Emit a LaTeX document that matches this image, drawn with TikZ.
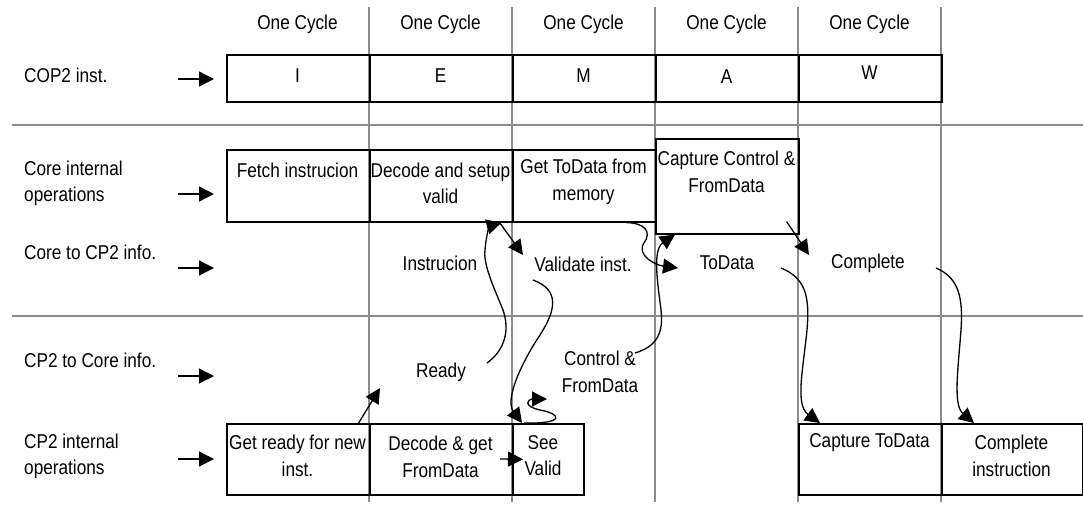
\documentclass[tikz,border=0pt]{standalone}
\usepackage{fontspec}
\setmainfont{Liberation Sans}[FakeStretch=0.86]
\usetikzlibrary{arrows.meta}
\begin{document}
\begin{tikzpicture}[x=1pt,y=-1pt,
  gridline/.style={draw=black!45, line width=1.4pt},
  box/.style={draw=black, line width=1.6pt, inner sep=0pt, anchor=north west},
  txt/.style={font=\fontsize{20}{26.5}\selectfont, align=center, inner sep=0pt},
  ltxt/.style={font=\fontsize{20}{26.5}\selectfont, align=left, inner sep=0pt, anchor=west},
  arr/.style={line width=1.3pt, -{Triangle[length=15pt,width=15pt]}},
]
\useasboundingbox (0,0) rectangle (1083,504);
% grid
\foreach \x in {369,512,655,798,941} {\draw[gridline] (\x,7) -- (\x,502);}
\draw[gridline] (12,125) -- (1083,125);
\draw[gridline] (12,316) -- (1083,316);

% cycle headers
\node[txt] (c1) at (297.5,24) {One Cycle};
\node[txt] (c2) at (440.5,24) {One Cycle};
\node[txt] (c3) at (583.5,24) {One Cycle};
\node[txt] (c4) at (726.5,24) {One Cycle};
\node[txt] (c5) at (869.5,24) {One Cycle};

% row labels
\node[ltxt] (l1) at (24,75) {COP2 inst.};
\node[ltxt] (l2) at (24,183.5) {Core internal\\operations};
\node[ltxt] (l3) at (24,252) {Core to CP2 info.};
\node[ltxt] (l4) at (24,360) {CP2 to Core info.};
\node[ltxt] (l5) at (24,456.5) {CP2 internal\\operations};

% left arrows
\foreach \n/\y in {1/79,2/194,3/268,4/376,5/459} {
  \coordinate (as\n) at (178,\y);
  \coordinate (ae\n) at (214,\y);
  \draw[arr] (as\n) -- (ae\n);
}

% row 1 boxes
\node[box, minimum width=143pt, minimum height=47pt] (bI) at (226,54) {};
\node[box, minimum width=143pt, minimum height=47pt] (bE) at (369,54) {};
\node[box, minimum width=143pt, minimum height=47pt] (bM) at (512,54) {};
\node[box, minimum width=143pt, minimum height=47pt] (bA) at (655,54) {};
\node[box, minimum width=143pt, minimum height=47pt] (bW) at (798,54) {};
\node[txt] (tI) at (297.5,76) {I};
\node[txt] (tE) at (440.5,76) {E};
\node[txt] (tM) at (583.5,76) {M};
\node[txt] (tA) at (726.5,77) {A};
\node[txt] (tW) at (869.5,73) {W};

% row 2 boxes
\node[box, minimum width=143pt, minimum height=72pt] (bF) at (226,149) {};
\node[box, minimum width=143pt, minimum height=72pt] (bDec) at (369,149) {};
\node[box, minimum width=143pt, minimum height=72pt] (bGet) at (512,149) {};
\node[box, minimum width=143pt, minimum height=95pt] (bCap) at (655,138) {};
\node[txt] (tF) at (297.5,170) {Fetch instrucion};
\node[txt] (tDec) at (440.5,183.5) {Decode and setup\\valid};
\node[txt] (tGet) at (583.5,182) {Get ToData from\\memory};
\node[txt] (tCap) at (726.5,172) {Capture Control \&\\FromData};

% row 5 boxes
\node[box, minimum width=143pt, minimum height=71pt] (bGR) at (226,423) {};
\node[box, minimum width=143pt, minimum height=71pt] (bDG) at (369,423) {};
\node[box, minimum width=71pt, minimum height=71pt] (bSee) at (512,423) {};
\node[box, minimum width=143pt, minimum height=71pt] (bCTD) at (798,423) {};
\node[box, minimum width=141pt, minimum height=71pt] (bCI) at (941,423) {};
\node[txt] (tGR) at (297.5,456) {Get ready for new\\inst.};
\node[txt] (tDG) at (440.5,457) {Decode \& get\\FromData};
\node[txt] (tSee) at (543,455.5) {See\\Valid};
\node[txt] (tCTD) at (869.5,443) {Capture ToData};
\node[txt] (tCI) at (1011.5,456) {Complete\\instruction};

% signal labels
\node[txt] (sIns) at (440,263) {Instrucion};
\node[txt] (sVal) at (583,264) {Validate inst.};
\node[txt] (sTo) at (727,263) {ToData};
\node[txt] (sCom) at (868,263) {Complete};
\node[txt] (sRdy) at (441,372) {Ready};
\node[txt] (sCtl) at (600,372) {Control \&\\FromData};

% free ends
\coordinate (rdyIn) at (380,388);
\coordinate (rdyOut) at (487,363);
\coordinate (valIn) at (523,255);
\coordinate (valOut) at (533,280);
\coordinate (ctlOut) at (635,353);
\coordinate (toIn) at (678,268);
\coordinate (toOut) at (781,268);
\coordinate (comIn) at (809,255);
\coordinate (comOut) at (936,268);
\coordinate (loopEnd) at (547,399);
\coordinate (dgOut) at (500,459);

% connectors
\draw[arr] ([xshift=-12pt]bGR.north east) -- (rdyIn);
\draw[arr] (rdyOut) .. controls (505,350) and (510,330) .. (503,310)
  .. controls (495,290) and (483,265) .. (485,250)
  .. controls (486,235) and (490,226) .. ([xshift=-12pt]bDec.south east);
\draw[arr] ([xshift=-14pt]bDec.south east) -- (valIn);
\draw[arr] (valOut) .. controls (560,290) and (556,310) .. (540,335)
  .. controls (520,365) and (505,400) .. ([xshift=10pt]bSee.north west);
\draw[arr] ([xshift=12pt]bSee.north west) .. controls (565,424) and (562,414) .. (540,410)
  .. controls (522,406) and (528,399) .. (loopEnd);
\draw[arr] (dgOut) -- ([xshift=11pt]bSee.west);
\draw[arr] (ctlOut) .. controls (655,347) and (664,335) .. (661,310)
  .. controls (658,285) and (652,250) .. ([xshift=20pt]bCap.south west);
\draw[arr] ([xshift=-30pt]bGet.south east) .. controls (645,223) and (652,232) .. (644,243)
  .. controls (636,255) and (655,265) .. (toIn);
\draw[arr] ([xshift=-13pt,yshift=13pt]bCap.south east) -- (comIn);
\draw[arr] (toOut) .. controls (805,278) and (810,295) .. (807,330)
  .. controls (803,370) and (795,405) .. ([xshift=22pt]bCTD.north west);
\draw[arr] (comOut) .. controls (960,278) and (963,300) .. (961,330)
  .. controls (958,370) and (953,405) .. ([xshift=33pt]bCI.north west);
\end{tikzpicture}
\end{document}
